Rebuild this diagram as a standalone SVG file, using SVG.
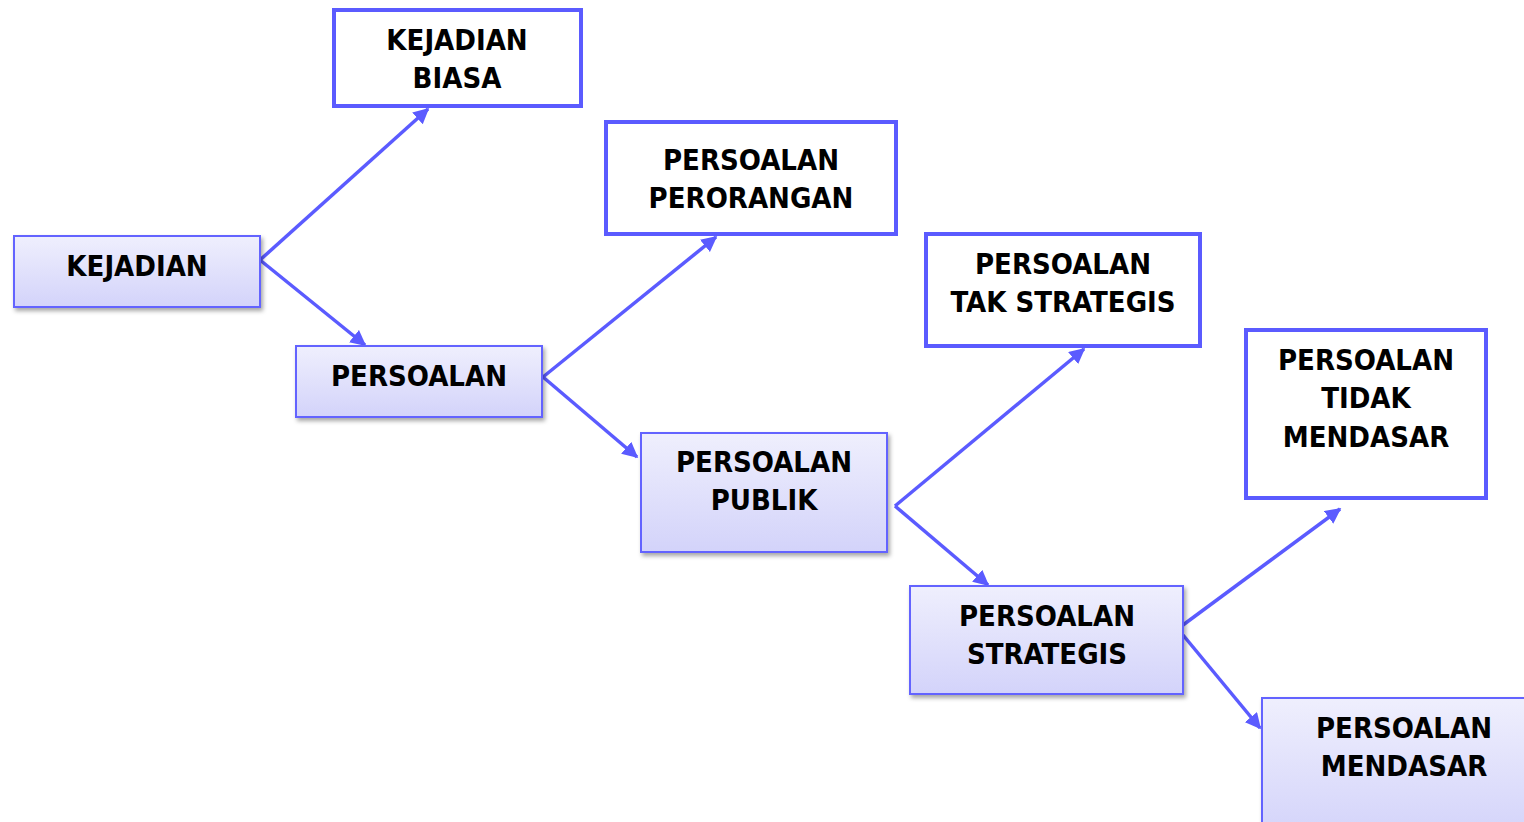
<svg xmlns="http://www.w3.org/2000/svg" width="1524" height="822" viewBox="0 0 1524 822">
<defs>
<linearGradient id="g" x1="0" y1="0" x2="0" y2="1">
<stop offset="0" stop-color="#efeffd"/>
<stop offset="1" stop-color="#d3d3fa"/>
</linearGradient>
<filter id="sh" x="-10%" y="-10%" width="125%" height="130%">
<feDropShadow dx="2" dy="3" stdDeviation="2" flood-color="#000" flood-opacity="0.35"/>
</filter>
<marker id="ah" viewBox="0 0 10 10" refX="9" refY="5" markerWidth="4.5" markerHeight="4.5" orient="auto" markerUnits="strokeWidth">
<path d="M0,0 L10,5 L0,10 z" fill="#5b5bff"/>
</marker>
</defs>
<style>
.g{fill:url(#g);stroke:#6464ff;stroke-width:2;filter:url(#sh)}
.w{fill:#fff;stroke:#5b5bff;stroke-width:4}
.t{font-family:"DejaVu Sans Condensed","DejaVu Sans",sans-serif;font-weight:bold;font-size:29px;fill:#000;text-anchor:middle}
.c{stroke:#5b5bff;stroke-width:3.5;fill:none;marker-end:url(#ah)}
</style>
<g id="connectors">
<line class="c" x1="260" y1="260" x2="428" y2="109"/>
<line class="c" x1="260" y1="260" x2="365" y2="345"/>
<line class="c" x1="543" y1="377" x2="716" y2="237"/>
<line class="c" x1="543" y1="377" x2="637" y2="457"/>
<line class="c" x1="895" y1="506" x2="1084" y2="349"/>
<line class="c" x1="895" y1="506" x2="988" y2="585"/>
<line class="c" x1="1183" y1="625" x2="1340" y2="509"/>
<line class="c" x1="1183" y1="635" x2="1260" y2="728"/>
</g>
<g id="kejadian">
<rect class="g" x="14" y="236" width="246" height="71"/>
<text class="t" x="137" y="276">KEJADIAN</text>
</g>
<g id="kejadian-biasa">
<rect class="w" x="334" y="10" width="247" height="96"/>
<text class="t" x="457" y="50">KEJADIAN</text>
<text class="t" x="457" y="88">BIASA</text>
</g>
<g id="persoalan">
<rect class="g" x="296" y="346" width="246" height="71"/>
<text class="t" x="419" y="386">PERSOALAN</text>
</g>
<g id="persoalan-perorangan">
<rect class="w" x="606" y="122" width="290" height="112"/>
<text class="t" x="751" y="170">PERSOALAN</text>
<text class="t" x="751" y="208">PERORANGAN</text>
</g>
<g id="persoalan-publik">
<rect class="g" x="641" y="433" width="246" height="119"/>
<text class="t" x="764" y="472">PERSOALAN</text>
<text class="t" x="764" y="510">PUBLIK</text>
</g>
<g id="persoalan-tak-strategis">
<rect class="w" x="926" y="234" width="274" height="112"/>
<text class="t" x="1063" y="274">PERSOALAN</text>
<text class="t" x="1063" y="312">TAK STRATEGIS</text>
</g>
<g id="persoalan-strategis">
<rect class="g" x="910" y="586" width="273" height="108"/>
<text class="t" x="1047" y="626">PERSOALAN</text>
<text class="t" x="1047" y="664">STRATEGIS</text>
</g>
<g id="persoalan-tidak-mendasar">
<rect class="w" x="1246" y="330" width="240" height="168"/>
<text class="t" x="1366" y="370">PERSOALAN</text>
<text class="t" x="1366" y="408">TIDAK</text>
<text class="t" x="1366" y="447">MENDASAR</text>
</g>
<g id="persoalan-mendasar">
<rect class="g" x="1262" y="698" width="270" height="140"/>
<text class="t" x="1404" y="738">PERSOALAN</text>
<text class="t" x="1404" y="776">MENDASAR</text>
</g>
</svg>
